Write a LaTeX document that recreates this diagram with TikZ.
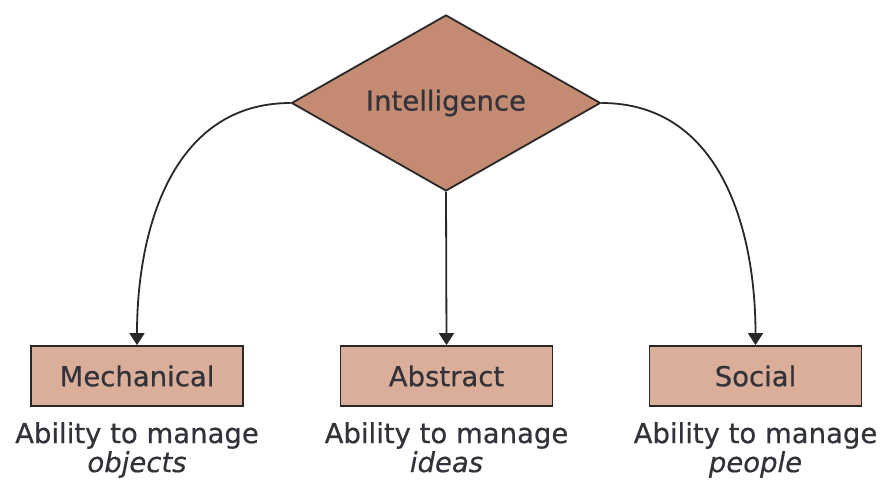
\documentclass[tikz,border=0pt]{standalone}
\usepackage{fontspec}
\setmainfont{DejaVu Sans}[FakeBold=0.5]
\usetikzlibrary{shapes.geometric,arrows.meta}
\definecolor{dfill}{RGB}{196,138,114}
\definecolor{bfill}{RGB}{219,174,154}
\definecolor{ink}{RGB}{40,40,40}
\definecolor{txt}{RGB}{50,50,58}
\tikzset{
  every node/.style={font=\fontsize{27.5}{29}\selectfont, text=txt},
  dia/.style={diamond, draw=ink, line width=1.8pt, fill=dfill, inner sep=0pt,
              minimum width=309pt, minimum height=176pt},
  catbox/.style={rectangle, draw=ink, line width=1.8pt, fill=bfill,
                 minimum width=212pt, minimum height=60pt, inner sep=0pt},
  desc/.style={align=center, inner sep=0pt, anchor=north},
  conn/.style={draw=ink, line width=1.8pt, -{Triangle[width=15pt,length=12pt]}}
}
\begin{document}
\begin{tikzpicture}[x=1pt,y=1pt]
\useasboundingbox (0,0) rectangle (884,481);
\node[dia] (d) at (446,378) {\makebox[0pt]{Intelligence}};
\node[catbox] (m) at (137,105) {Mechanical};
\node[catbox] (a) at (446.5,105) {Abstract};
\node[catbox] (s) at (755.5,105) {Social};
\node[desc] (ml) at (137,59) {Ability to manage\\\textit{objects}};
\node[desc] (al) at (446.5,59) {Ability to manage\\\textit{ideas}};
\node[desc] (sl) at (755.5,59) {Ability to manage\\\textit{people}};
\draw[conn] (d.west) to[out=180,in=90,looseness=1.05] (m.north);
\draw[conn] (d.south) -- (a.north);
\draw[conn] (d.east) to[out=0,in=90,looseness=1.05] (s.north);
\end{tikzpicture}
\end{document}
